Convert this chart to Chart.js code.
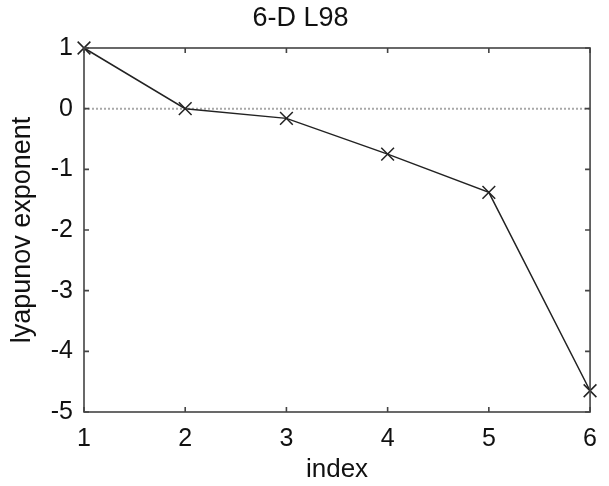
<!DOCTYPE html>
<html>
<head>
<meta charset="utf-8">
<script src="https://cdn.jsdelivr.net/npm/chart.js@4/dist/chart.umd.min.js"></script>
<style>
  html, body { margin: 0; padding: 0; background: #fff; }
  #wrap { width: 609px; height: 486px; position: relative; }
</style>
</head>
<body>
<div id="wrap"><canvas id="mainChart"></canvas></div>
<script>
// -----------------------------
// DATA
// -----------------------------
const indexValues = [1, 2, 3, 4, 5, 6];
const exponents = [1.0, 0.0, -0.16, -0.75, -1.38, -4.65];
const zeroLine = [0, 0, 0, 0, 0, 0];
const yTicks = [1, 0, -1, -2, -3, -4, -5];

const FONT = "'Liberation Sans', Arial, Helvetica, sans-serif";
const INK = '#111';
const AXIS = '#444';

// -----------------------------
// BOX + INWARD TICKS (MATLAB style)
// -----------------------------
const boxPlugin = {
  id: 'box',
  afterDatasetsDraw(chart) {
    const { ctx, chartArea: a, scales } = chart;
    ctx.save();
    ctx.strokeStyle = AXIS;
    ctx.lineWidth = 1.6;
    ctx.strokeRect(a.left, a.top, a.right - a.left, a.bottom - a.top);

    const len = 5;
    ctx.beginPath();
    scales.x.ticks.forEach(t => {
      const px = scales.x.getPixelForValue(t.value);
      ctx.moveTo(px, a.bottom); ctx.lineTo(px, a.bottom - len);
      ctx.moveTo(px, a.top); ctx.lineTo(px, a.top + len);
    });
    scales.y.ticks.forEach(t => {
      const py = scales.y.getPixelForValue(t.value);
      ctx.moveTo(a.left, py); ctx.lineTo(a.left + len, py);
      ctx.moveTo(a.right, py); ctx.lineTo(a.right - len, py);
    });
    ctx.stroke();
    ctx.restore();
  }
};

// -----------------------------
// CHART
// -----------------------------
const ctx = document.getElementById('mainChart').getContext('2d');

new Chart(ctx, {
  type: 'line',
  data: {
    datasets: [
      {
        label: 'lyapunov exponent',
        data: indexValues.map((x, i) => ({ x, y: exponents[i] })),
        borderColor: '#222',
        borderWidth: 1.5,
        pointStyle: 'crossRot',
        pointRadius: 9,
        pointBorderColor: '#222',
        pointBorderWidth: 1.5,
        tension: 0,
        clip: false,
        order: 1
      },
      {
        label: 'zero',
        data: indexValues.map((x, i) => ({ x, y: zeroLine[i] })),
        borderColor: '#a8a8a8',
        borderWidth: 2,
        borderDash: [2, 2],
        pointRadius: 0,
        order: 2
      }
    ]
  },
  options: {
    responsive: true,
    maintainAspectRatio: false,
    animation: false,
    layout: { padding: { top: 0, right: 8, bottom: 0, left: 0 } },
    plugins: {
      legend: { display: false },
      tooltip: { enabled: false },
      title: {
        display: true,
        text: '6-D L98',
        color: INK,
        font: { family: FONT, size: 27, weight: 'normal', lineHeight: 1.2 },
        padding: { top: 2, bottom: 13.6 }
      }
    },
    scales: {
      x: {
        type: 'linear',
        min: 1,
        max: 6,
        grid: { display: false, drawTicks: false },
        border: { display: false },
        ticks: {
          stepSize: 1,
          color: INK,
          padding: 12,
          font: { family: FONT, size: 25 }
        },
        title: {
          display: true,
          text: 'index',
          color: INK,
          padding: 0,
          font: { family: FONT, size: 26, lineHeight: 1.23 }
        },
        afterFit(scale) { scale.height = 74; }
      },
      y: {
        min: -5,
        max: 1,
        grid: { display: false, drawTicks: false },
        border: { display: false },
        afterBuildTicks(scale) {
          scale.ticks = yTicks.map(v => ({ value: v }));
        },
        ticks: {
          color: INK,
          padding: 11,
          font: { family: FONT, size: 25 }
        },
        title: {
          display: true,
          text: 'lyapunov exponent',
          color: INK,
          padding: 0,
          font: { family: FONT, size: 27, lineHeight: 1.7 }
        },
        afterFit(scale) { scale.width = 84; }
      }
    }
  },
  plugins: [boxPlugin]
});
</script>
</body>
</html>
